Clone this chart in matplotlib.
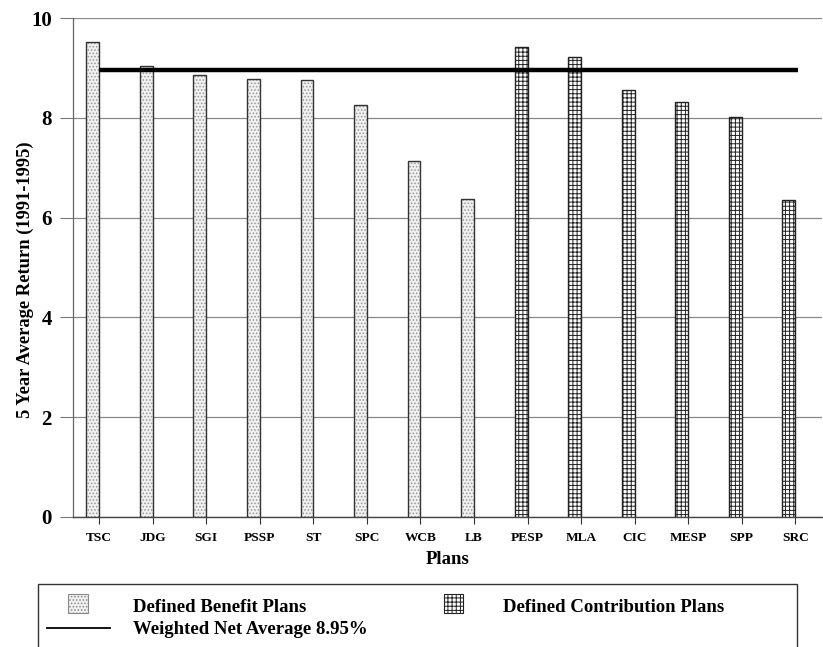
import matplotlib.pyplot as plt
from matplotlib.patches import Rectangle
from matplotlib.lines import Line2D

plans = ['TSC', 'JDG', 'SGI', 'PSSP', 'ST', 'SPC', 'WCB', 'LB',
         'PESP', 'MLA', 'CIC', 'MESP', 'SPP', 'SRC']
benefit_returns = [9.52, 9.04, 8.86, 8.78, 8.76, 8.26, 7.13, 6.38]
contribution_returns = [9.42, 9.22, 8.56, 8.32, 8.01, 6.35]
weighted_avg = 8.95

plt.rcParams['font.family'] = ['Liberation Serif', 'DejaVu Serif']
plt.rcParams['font.weight'] = 'bold'
plt.rcParams['hatch.linewidth'] = 0.7

W, H = 823, 647
fig = plt.figure(figsize=(W / 100, H / 100), dpi=100)
ax = fig.add_axes([72.5 / W, 1 - 517 / H, 749.5 / W, 499 / H])

w = 0.24
n_db = len(benefit_returns)
x_db = list(range(n_db))
x_dc = list(range(n_db, len(plans)))

# bars sit just left of their tick; stipple layer first, then the outline
ax.bar(x_db, benefit_returns, width=-w, align='edge', facecolor='#f0f0f0',
       edgecolor='#999999', hatch='.....', linewidth=0, zorder=3)
ax.bar(x_db, benefit_returns, width=-w, align='edge', facecolor='none',
       edgecolor='#333333', linewidth=1.0, zorder=4)
ax.bar(x_dc, contribution_returns, width=-w, align='edge', facecolor='white',
       edgecolor='#222222', hatch='++++', linewidth=1.0, zorder=3)

ax.hlines(weighted_avg, 0, 13.05, color='black', linewidth=3.2, zorder=5)

ax.set_xlim(-0.5, 13.5)
ax.set_ylim(0, 10)
ax.set_yticks([0, 2, 4, 6, 8, 10])
ax.set_xticks(range(len(plans)))
ax.set_xticklabels(plans, fontsize=9.6, fontweight='bold')
ax.tick_params(axis='y', labelsize=15, length=9.4, color='#777777', pad=5.5)
ax.tick_params(axis='x', length=5, color='#333333', pad=6)
for lab in ax.get_yticklabels():
    lab.set_fontweight('bold')

ax.grid(axis='y', color='#888888', linewidth=0.9, zorder=0)
ax.set_axisbelow(True)
for s in ['top', 'right']:
    ax.spines[s].set_visible(False)
ax.spines['left'].set_color('#666666')
ax.spines['bottom'].set_color('#444444')
ax.spines['left'].set_linewidth(0.9)
ax.spines['bottom'].set_linewidth(1.0)

ax.set_ylabel('5 Year Average Return (1991-1995)', fontsize=13.3,
              fontweight='bold')
ax.yaxis.set_label_coords(-(72.5 - 25) / 749.5, (517 - 280) / 499)
ax.yaxis.label.set_va('center')
ax.set_xlabel('Plans', fontsize=13.5, fontweight='bold')
ax.xaxis.set_label_coords(0.5, -(560 - 517) / 499)
ax.xaxis.label.set_va('center')


def fx(px):
    return px / W


def fy(py):
    return 1 - py / H


# legend box, drawn by hand; its bottom runs off the page
fig.add_artist(Rectangle((fx(38), -0.05), fx(797 - 38), fy(584) + 0.05,
                         transform=fig.transFigure, facecolor='none',
                         edgecolor='#333333', linewidth=1.0))
fig.add_artist(Rectangle((fx(68), fy(613)), fx(20), 19 / H,
                         transform=fig.transFigure, facecolor='#f0f0f0',
                         edgecolor='#888888', hatch='.....', linewidth=0.8))
fig.add_artist(Rectangle((fx(444), fy(613)), fx(19), 19 / H,
                         transform=fig.transFigure, facecolor='white',
                         edgecolor='#222222', hatch='++++', linewidth=0.8))
fig.add_artist(Line2D([fx(47), fx(110)], [fy(628), fy(628)],
                      transform=fig.transFigure, color='black', linewidth=1.3))
fig.text(fx(133), fy(607), 'Defined Benefit Plans', fontsize=13.5,
         fontweight='bold', va='center')
fig.text(fx(503), fy(607), 'Defined Contribution Plans', fontsize=13.5,
         fontweight='bold', va='center')
fig.text(fx(133), fy(630), 'Weighted Net Average 8.95%', fontsize=13.5,
         fontweight='bold', va='center')

fig.savefig('out.png', dpi=100)
